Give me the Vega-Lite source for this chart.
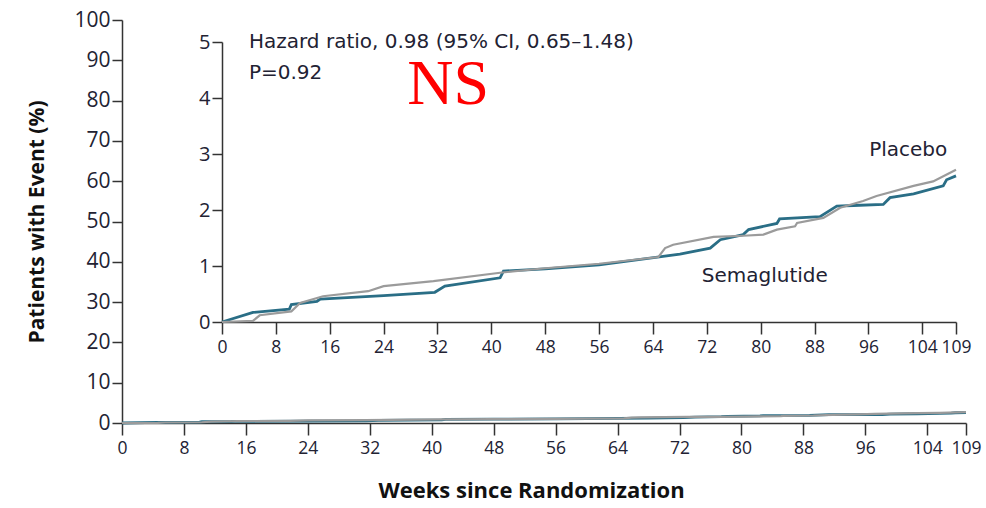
{
  "$schema": "https://vega.github.io/schema/vega-lite/v6.json",
  "autosize": "none",
  "width": 844,
  "height": 403,
  "padding": {"left": 122, "top": 20, "right": 20, "bottom": 85},
  "background": "white",
  "config": {
    "view": {"stroke": null},
    "font": "Open Sans",
    "axis": {
      "grid": false,
      "domainColor": "#333333",
      "tickColor": "#333333",
      "labelColor": "#222233",
      "titleColor": "#111111",
      "domainWidth": 1.5,
      "tickWidth": 1.5,
      "labelFont": "Open Sans",
      "titleFont": "Open Sans",
      "labelOverlap": false,
      "labelFlush": false
    }
  },
  "datasets": {
    "km": [
      {"week": 0, "pct": 0, "group": "Semaglutide"},
      {"week": 4.6, "pct": 0.17, "group": "Semaglutide"},
      {"week": 10.0, "pct": 0.23, "group": "Semaglutide"},
      {"week": 10.3, "pct": 0.31, "group": "Semaglutide"},
      {"week": 14.1, "pct": 0.37, "group": "Semaglutide"},
      {"week": 14.6, "pct": 0.41, "group": "Semaglutide"},
      {"week": 24, "pct": 0.47, "group": "Semaglutide"},
      {"week": 31.6, "pct": 0.53, "group": "Semaglutide"},
      {"week": 33.1, "pct": 0.64, "group": "Semaglutide"},
      {"week": 41.3, "pct": 0.79, "group": "Semaglutide"},
      {"week": 41.8, "pct": 0.91, "group": "Semaglutide"},
      {"week": 48, "pct": 0.95, "group": "Semaglutide"},
      {"week": 56, "pct": 1.02, "group": "Semaglutide"},
      {"week": 64.1, "pct": 1.15, "group": "Semaglutide"},
      {"week": 68.0, "pct": 1.21, "group": "Semaglutide"},
      {"week": 72.5, "pct": 1.32, "group": "Semaglutide"},
      {"week": 74.0, "pct": 1.47, "group": "Semaglutide"},
      {"week": 77.4, "pct": 1.56, "group": "Semaglutide"},
      {"week": 78.2, "pct": 1.65, "group": "Semaglutide"},
      {"week": 82.4, "pct": 1.76, "group": "Semaglutide"},
      {"week": 82.8, "pct": 1.84, "group": "Semaglutide"},
      {"week": 88.8, "pct": 1.88, "group": "Semaglutide"},
      {"week": 91.3, "pct": 2.07, "group": "Semaglutide"},
      {"week": 93.8, "pct": 2.08, "group": "Semaglutide"},
      {"week": 98.2, "pct": 2.1, "group": "Semaglutide"},
      {"week": 99.2, "pct": 2.22, "group": "Semaglutide"},
      {"week": 102.7, "pct": 2.29, "group": "Semaglutide"},
      {"week": 107.1, "pct": 2.43, "group": "Semaglutide"},
      {"week": 107.6, "pct": 2.54, "group": "Semaglutide"},
      {"week": 109, "pct": 2.61, "group": "Semaglutide"},
      {"week": 0, "pct": 0, "group": "Placebo"},
      {"week": 4.6, "pct": 0.02, "group": "Placebo"},
      {"week": 5.6, "pct": 0.12, "group": "Placebo"},
      {"week": 10.3, "pct": 0.19, "group": "Placebo"},
      {"week": 11.6, "pct": 0.34, "group": "Placebo"},
      {"week": 15.0, "pct": 0.46, "group": "Placebo"},
      {"week": 21.7, "pct": 0.55, "group": "Placebo"},
      {"week": 24.0, "pct": 0.64, "group": "Placebo"},
      {"week": 31.4, "pct": 0.73, "group": "Placebo"},
      {"week": 41.3, "pct": 0.88, "group": "Placebo"},
      {"week": 48, "pct": 0.96, "group": "Placebo"},
      {"week": 56, "pct": 1.04, "group": "Placebo"},
      {"week": 64.8, "pct": 1.16, "group": "Placebo"},
      {"week": 65.8, "pct": 1.32, "group": "Placebo"},
      {"week": 67.0, "pct": 1.38, "group": "Placebo"},
      {"week": 73.0, "pct": 1.52, "group": "Placebo"},
      {"week": 77.4, "pct": 1.54, "group": "Placebo"},
      {"week": 80.4, "pct": 1.56, "group": "Placebo"},
      {"week": 82.4, "pct": 1.65, "group": "Placebo"},
      {"week": 85.1, "pct": 1.71, "group": "Placebo"},
      {"week": 85.4, "pct": 1.77, "group": "Placebo"},
      {"week": 89.3, "pct": 1.86, "group": "Placebo"},
      {"week": 91.8, "pct": 2.04, "group": "Placebo"},
      {"week": 95.2, "pct": 2.16, "group": "Placebo"},
      {"week": 97.2, "pct": 2.25, "group": "Placebo"},
      {"week": 102.7, "pct": 2.43, "group": "Placebo"},
      {"week": 105.6, "pct": 2.51, "group": "Placebo"},
      {"week": 109, "pct": 2.72, "group": "Placebo"}
    ],
    "notes": [
      {"label": "Hazard ratio, 0.98 (95% CI, 0.65\u20131.48)", "wk": 4.0, "val": 5.0},
      {"label": "P=0.92", "wk": 4.0, "val": 4.45}
    ],
    "series": [
      {"label": "Placebo", "wk": 101.9, "val": 3.08},
      {"label": "Semaglutide", "wk": 80.6, "val": 0.83}
    ],
    "ns": [
      {"label": "NS", "wk": 33.6, "val": 4.24}
    ]
  },
  "resolve": {"scale": {"x": "independent", "y": "independent"}, "axis": {"x": "independent", "y": "independent"}},
  "layer": [
    {
      "data": {"name": "km"},
      "mark": {"type": "line", "interpolate": "linear"},
      "encoding": {
        "x": {"field": "week", "type": "quantitative", "scale": {"domain": [0, 109], "nice": false},
          "axis": {"values": [0, 8, 16, 24, 32, 40, 48, 56, 64, 72, 80, 88, 96, 104, 109], "format": "d", "title": "Weeks since Randomization", "titleFontSize": 22, "titleFontWeight": "bold", "titlePadding": 24, "titleX": 409, "titleAlign": "center", "labelFontSize": 17.5, "tickSize": 12, "labelPadding": 4, "orient": "bottom"}},
        "y": {"field": "pct", "type": "quantitative", "scale": {"domain": [0, 100], "nice": false},
          "axis": {"values": [0, 10, 20, 30, 40, 50, 60, 70, 80, 90, 100], "format": "d", "title": "Patients with Event (%)", "titleFontSize": 21, "titleFontWeight": "bold", "titlePadding": 26, "labelFontSize": 21, "tickSize": 10, "labelPadding": 2, "orient": "left"}},
        "color": {"field": "group", "type": "nominal", "scale": {"domain": ["Placebo", "Semaglutide"], "range": ["#9b9b9b", "#2a6e86"]}, "legend": null},
        "strokeWidth": {"field": "group", "type": "nominal", "scale": {"domain": ["Placebo", "Semaglutide"], "range": [2.2, 2.8]}, "legend": null},
        "order": {"field": "week", "type": "quantitative"}
      }
    },
    {
      "layer": [
        {
          "data": {"name": "km"},
          "mark": {"type": "line", "interpolate": "linear"},
          "encoding": {
            "x": {"field": "week", "type": "quantitative", "scale": {"domain": [0, 109], "nice": false, "range": [100, 834]},
              "axis": {"values": [0, 8, 16, 24, 32, 40, 48, 56, 64, 72, 80, 88, 96, 104, 109], "format": "d", "title": null, "labelFontSize": 17.5, "tickSize": 12, "labelPadding": 4, "orient": "bottom", "offset": -101}},
            "y": {"field": "pct", "type": "quantitative", "scale": {"domain": [0, 5], "nice": false, "range": [302, 22]},
              "axis": {"values": [0, 1, 2, 3, 4, 5], "format": "d", "title": null, "labelFontSize": 20, "tickSize": 10, "labelPadding": 2, "orient": "left", "offset": -100}},
            "color": {"field": "group", "type": "nominal", "scale": {"domain": ["Placebo", "Semaglutide"], "range": ["#9b9b9b", "#2a6e86"]}, "legend": null},
            "strokeWidth": {"field": "group", "type": "nominal", "scale": {"domain": ["Placebo", "Semaglutide"], "range": [2.2, 2.8]}, "legend": null},
            "order": {"field": "week", "type": "quantitative"}
          }
        },
        {
          "data": {"name": "notes"},
          "mark": {"type": "text", "align": "left", "baseline": "middle", "fontSize": 20, "color": "#222233", "font": "DejaVu Sans"},
          "encoding": {
            "x": {"field": "wk", "type": "quantitative"},
            "y": {"field": "val", "type": "quantitative"},
            "text": {"field": "label", "type": "nominal"}
          }
        },
        {
          "data": {"name": "series"},
          "mark": {"type": "text", "align": "center", "baseline": "middle", "fontSize": 20, "color": "#222233", "font": "DejaVu Sans"},
          "encoding": {
            "x": {"field": "wk", "type": "quantitative"},
            "y": {"field": "val", "type": "quantitative"},
            "text": {"field": "label", "type": "nominal"}
          }
        },
        {
          "data": {"name": "ns"},
          "mark": {"type": "text", "align": "center", "baseline": "middle", "fontSize": 64, "color": "#ff0000", "font": "Liberation Serif"},
          "encoding": {
            "x": {"field": "wk", "type": "quantitative"},
            "y": {"field": "val", "type": "quantitative"},
            "text": {"field": "label", "type": "nominal"}
          }
        }
      ]
    }
  ]
}
